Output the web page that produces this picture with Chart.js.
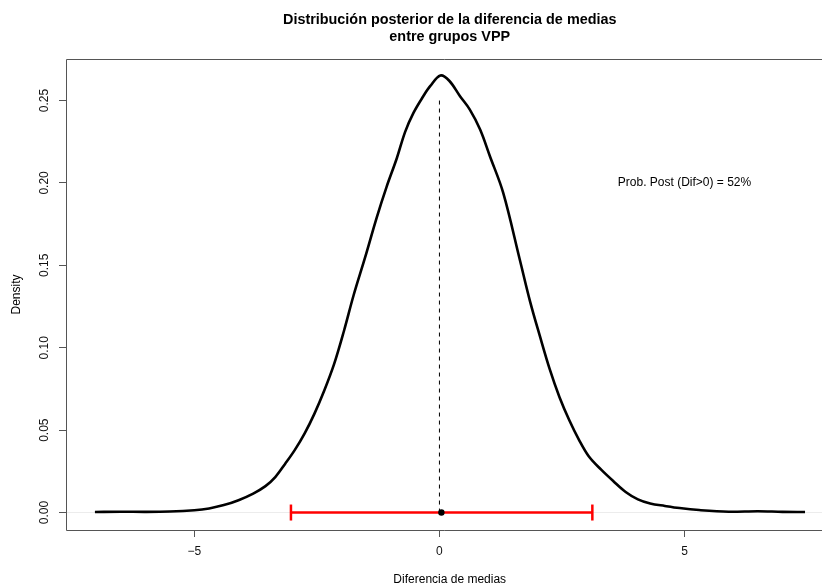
<!DOCTYPE html>
<html lang="es">
<head>
<meta charset="UTF-8" />
<title>Distribución posterior de la diferencia de medias</title>
<script src="https://cdn.jsdelivr.net/npm/chart.js"></script>
<style>
  html, body { margin: 0; padding: 0; background: #fff; overflow: hidden; }
  canvas { display: block; }
</style>
</head>
<body>
<canvas id="grafico" width="822" height="588"></canvas>
<script>
  // densidad posterior
  const difX = [-7.03, -6.5, -6.0, -5.5, -5.0, -4.7, -4.4, -4.1, -3.8, -3.55, -3.35, -3.15, -2.95, -2.75,
    -2.55, -2.35, -2.15, -1.95, -1.75, -1.52, -1.28, -1.08, -0.87, -0.70, -0.53, -0.33, -0.19, 0.02,
    0.20, 0.42, 0.62, 0.83, 1.03, 1.30, 1.64, 1.85, 2.05, 2.25, 2.45, 2.65, 2.85, 3.05, 3.30, 3.55,
    3.80, 4.05, 4.30, 4.60, 4.90, 5.30, 5.90, 6.50, 7.00, 7.46];
  const densidad = [0.0003, 0.0005, 0.0004, 0.0006, 0.0014, 0.0025, 0.0045, 0.0075, 0.0115, 0.0160, 0.0215,
    0.0295, 0.0380, 0.0480, 0.0600, 0.0740, 0.0900, 0.1100, 0.1320, 0.1545, 0.1790, 0.1975, 0.2150,
    0.2310, 0.2425, 0.2526, 0.2587, 0.2652, 0.2620, 0.2526, 0.2445, 0.2324, 0.2162, 0.1941, 0.1534,
    0.1280, 0.1070, 0.0870, 0.0700, 0.0560, 0.0440, 0.0340, 0.0260, 0.0190, 0.0125, 0.0080, 0.0055,
    0.0040, 0.0027, 0.0015, 0.0005, 0.0008, 0.0004, 0.0003];

  const intervaloX = [-3.03, 3.12];
  const intervaloY = [0, 0];
  const lineaX = [0, 0];
  const lineaY = [0, 0.25];
  const centroX = [0.04];
  const centroY = [0];

  const ticksX = [-5, 0, 5];
  const etiquetasX = ['\u22125', '0', '5'];
  const ticksY = [0, 0.05, 0.10, 0.15, 0.20, 0.25];
  const etiquetasY = ['0.00', '0.05', '0.10', '0.15', '0.20', '0.25'];

  const textoProb = 'Prob. Post (Dif>0) = 52%';
  const posProb = [5, 0.20];

  function puntos(xs, ys) {
    return xs.map((x, i) => ({ x: x, y: ys[i] }));
  }

  Chart.defaults.font.family = '"Liberation Sans", Arial, Helvetica, sans-serif';
  Chart.defaults.font.size = 12;
  Chart.defaults.color = '#111';

  const textos = {
    id: 'textos',
    afterDraw(chart) {
      const { ctx, chartArea: a, scales } = chart;
      // el area de R sigue a la derecha de la imagen (hasta x = 8.04)
      const cx = (a.left + scales.x.getPixelForValue(8.04)) / 2;
      ctx.save();
      ctx.strokeStyle = '#555';
      ctx.lineWidth = 1;
      ctx.beginPath();
      ctx.moveTo(a.right + 2, a.top + 0.5);
      ctx.lineTo(a.left + 0.5, a.top + 0.5);
      ctx.lineTo(a.left + 0.5, a.bottom + 0.5);
      ctx.lineTo(a.right + 2, a.bottom + 0.5);
      ctx.stroke();

      ctx.fillStyle = '#000';
      ctx.textAlign = 'center';
      ctx.textBaseline = 'middle';
      ctx.font = 'bold 14.4px "Liberation Sans", Arial, sans-serif';
      ctx.fillText('Distribución posterior de la diferencia de medias', cx, 20);
      ctx.fillText('entre grupos VPP', cx, 37);

      ctx.font = '12px "Liberation Sans", Arial, sans-serif';
      ctx.fillText('Diferencia de medias', cx, 580);
      ctx.fillText(textoProb, scales.x.getPixelForValue(posProb[0]), scales.y.getPixelForValue(posProb[1]));

      ctx.translate(17, (a.top + a.bottom) / 2);
      ctx.rotate(-Math.PI / 2);
      ctx.fillText('Density', 0, 0);
      ctx.restore();
    }
  };

  new Chart(document.getElementById('grafico'), {
    type: 'scatter',
    data: {
      datasets: [
        {
          data: puntos(centroX, centroY),
          pointRadius: 3.2,
          pointBackgroundColor: '#000',
          pointBorderColor: '#000',
          pointBorderWidth: 0
        },
        {
          data: puntos(intervaloX, intervaloY),
          showLine: true,
          borderColor: '#ff0000',
          borderWidth: 2.5,
          pointStyle: 'line',
          pointRotation: 90,
          pointRadius: 8,
          pointBorderColor: '#ff0000',
          pointBorderWidth: 2.5
        },
        {
          data: puntos(lineaX, lineaY),
          showLine: true,
          borderColor: '#000',
          borderWidth: 1,
          borderDash: [4, 4],
          pointRadius: 0
        },
        {
          data: puntos(difX, densidad),
          showLine: true,
          borderColor: '#000',
          borderWidth: 2.6,
          tension: 0.35,
          pointRadius: 0
        }
      ]
    },
    options: {
      responsive: false,
      devicePixelRatio: 1,
      animation: false,
      layout: { autoPadding: false, padding: { left: 0, top: 59, right: 0, bottom: 0 } },
      plugins: { legend: { display: false }, tooltip: { enabled: false }, title: { display: false } },
      scales: {
        x: {
          type: 'linear',
          min: -7.62,
          max: 7.806,
          afterBuildTicks: s => { s.ticks = ticksX.map(v => ({ value: v })); },
          afterFit: s => { s.height = 58; s.paddingLeft = 0; s.paddingRight = 0; },
          border: { display: false },
          grid: { color: 'rgba(0,0,0,0)', tickColor: '#555', tickLength: 7, lineWidth: 1 },
          ticks: {
            padding: 7,
            maxRotation: 0,
            color: '#111',
            callback: (v) => etiquetasX[ticksX.indexOf(v)]
          }
        },
        y: {
          type: 'linear',
          min: -0.0106,
          max: 0.2752,
          afterBuildTicks: s => { s.ticks = ticksY.map(v => ({ value: v })); },
          afterFit: s => { s.width = 66; s.paddingTop = 0; s.paddingBottom = 0; },
          border: { display: false },
          grid: {
            color: c => (c.tick && c.tick.value === 0 ? '#ececec' : 'rgba(0,0,0,0)'),
            tickColor: '#555',
            tickLength: 7,
            lineWidth: 1
          },
          ticks: {
            padding: 3,
            minRotation: 90,
            maxRotation: 90,
            crossAlign: 'center',
            color: '#111',
            callback: (v) => etiquetasY[ticksY.indexOf(v)]
          }
        }
      }
    },
    plugins: [textos]
  });
</script>
</body>
</html>
